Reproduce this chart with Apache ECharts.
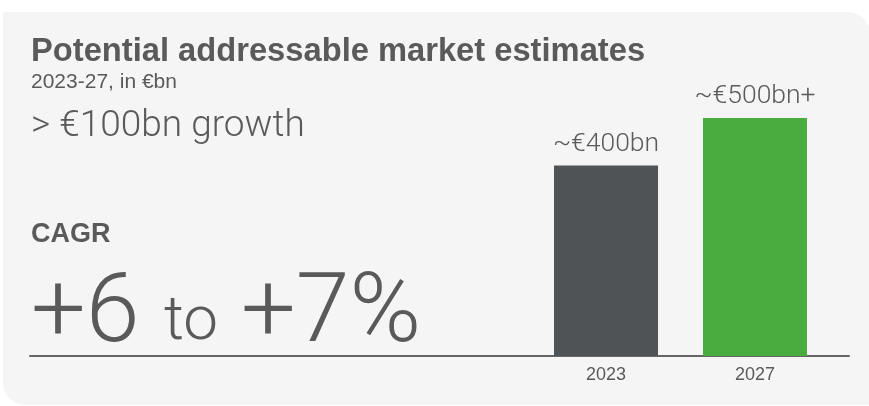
<!DOCTYPE html>
<html>
<head>
<meta charset="utf-8">
<script src="https://cdn.jsdelivr.net/npm/echarts@6/dist/echarts.min.js"></script>
<style>
html,body{margin:0;padding:0;background:#ffffff;}
#chart{width:869px;height:406px;}
</style>
</head>
<body>
<div id="chart"></div>
<script>
// ---- data ----
var categories = ['2023', '2027'];
var values = [400, 500];
var barLabels = ['~€400bn', '~€500bn+'];
var barColors = ['#505356', '#4aab3f'];
var titleText = 'Potential addressable market estimates';
var subtitleText = '2023-27, in €bn';
var growthText = '> €100bn growth';
var cagrLabel = 'CAGR';
var cagrParts = ['+6', 'to', '+7%'];

var TXT = '#5a5a5a';
var FONT = '"Liberation Sans", Arial, Helvetica, sans-serif';
var LIGHT = 'Roboto, "Liberation Sans", sans-serif';

var chart = echarts.init(document.getElementById('chart'), null, {renderer: 'canvas'});

chart.setOption({
  backgroundColor: '#ffffff',
  animation: false,
  graphic: [
    {type: 'rect', z: -10, shape: {x: 3, y: 12, width: 868, height: 393, r: [0, 24, 0, 22]}, style: {fill: '#f5f5f5'}},
    {type: 'text', x: 31, y: 52, style: {text: titleText, font: 'bold 32.7px ' + FONT, fill: TXT, verticalAlign: 'middle'}},
    {type: 'text', x: 31, y: 82, style: {text: subtitleText, font: '21px ' + FONT, fill: TXT, verticalAlign: 'middle'}},
    {type: 'text', x: 31, y: 127, style: {text: growthText, font: '300 37px ' + LIGHT, fill: TXT, verticalAlign: 'middle'}},
    {type: 'text', x: 31, y: 235, style: {text: cagrLabel, font: 'bold 27px ' + FONT, fill: TXT, verticalAlign: 'middle'}},
    {type: 'text', x: 31, y: 317, style: {text: cagrParts[0], font: '300 97px ' + LIGHT, fill: TXT, verticalAlign: 'middle'}},
    {type: 'text', x: 164, y: 323, style: {text: cagrParts[1], font: '300 62px ' + LIGHT, fill: TXT, verticalAlign: 'middle'}},
    {type: 'text', x: 241, y: 317, style: {text: cagrParts[2], font: '300 97px ' + LIGHT, fill: TXT, verticalAlign: 'middle'}}
  ],
  grid: [
    {left: 531.5, right: 39.5, top: 70.4, bottom: 50, containLabel: false},
    {left: 30, right: 20, top: 70.4, bottom: 50, containLabel: false}
  ],
  xAxis: [
    {
      type: 'category', gridIndex: 0, data: categories,
      axisLine: {show: false}, axisTick: {show: false},
      axisLabel: {color: TXT, fontSize: 18, fontFamily: FONT, margin: 10}
    },
    {
      type: 'value', gridIndex: 1, min: 0, max: 1,
      axisLine: {show: true, lineStyle: {color: '#666666', width: 2}},
      axisTick: {show: false}, axisLabel: {show: false}, splitLine: {show: false}
    }
  ],
  yAxis: [
    {type: 'value', gridIndex: 0, min: 0, max: 600, show: false, splitLine: {show: false}},
    {type: 'value', gridIndex: 1, min: 0, max: 1, show: false, splitLine: {show: false}}
  ],
  series: [{
    type: 'bar',
    xAxisIndex: 0, yAxisIndex: 0,
    barWidth: 104,
    data: values.map(function (v, i) {
      return {value: v, itemStyle: {color: barColors[i]}};
    }),
    label: {
      show: true, position: 'top', distance: 8,
      color: TXT, fontSize: 26.5, fontFamily: LIGHT, fontWeight: 300,
      formatter: function (p) { return barLabels[p.dataIndex]; }
    }
  }]
});
</script>
</body>
</html>
